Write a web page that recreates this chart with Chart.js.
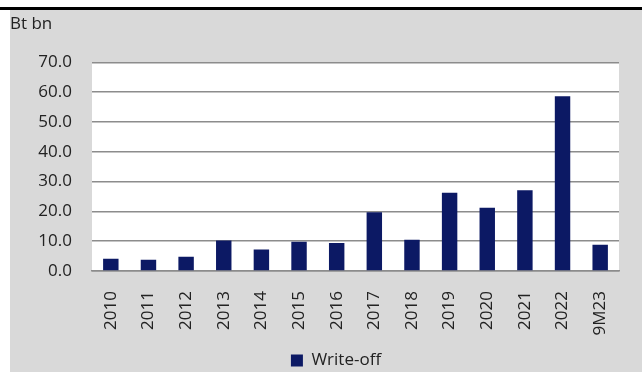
<!DOCTYPE html>
<html>
<head>
<meta charset="utf-8">
<script src="https://cdn.jsdelivr.net/npm/chart.js@4"></script>
<style>
  html, body { margin: 0; padding: 0; background: #fff; overflow: hidden; }
  #page { position: relative; width: 642px; height: 372px; overflow: hidden; }
  #rule { position: absolute; left: 0; top: 7px; width: 642px; height: 3px; background: #000; }
  #panel { position: absolute; left: 10px; top: 10px; width: 632px; height: 362px; background: #d9d9d9; }
  #chart { position: absolute; left: 10px; top: 10px; }
</style>
</head>
<body>
<div id="page">
  <div id="rule"></div>
  <div id="panel"></div>
  <canvas id="chart" width="652" height="371"></canvas>
</div>
<script>
// データ
const categories = ["2010", "2011", "2012", "2013", "2014", "2015", "2016", "2017", "2018", "2019", "2020", "2021", "2022", "9M23"];
const writeOff = [4.1, 3.8, 4.8, 10.2, 7.2, 9.8, 9.4, 19.7, 10.5, 26.3, 21.2, 27.1, 58.6, 8.8];
const yTicks = [0, 10, 20, 30, 40, 50, 60, 70];

const fontFamily = "'Open Sans', 'Noto Sans', sans-serif";
const textColor = "#222";
const gridColor = "#8c8c8c";

// プロットエリアを白で塗る
const plotBackground = {
    id: "plotBackground",
    beforeDraw(chart) {
        const a = chart.chartArea;
        const ctx = chart.ctx;
        ctx.save();
        ctx.fillStyle = "#fff";
        ctx.fillRect(a.left, a.top, a.right - a.left, a.bottom - a.top);
        ctx.restore();
    }
};

let config = {
    type: "bar",
    data: {
        labels: categories,
        datasets: [{
            label: "Write-off",
            data: writeOff,
            backgroundColor: "#0c1964",
            categoryPercentage: 1,
            barPercentage: 0.41
        }]
    },
    options: {
        responsive: false,
        animation: false,
        devicePixelRatio: 1,
        layout: { padding: { left: 0, right: 0, top: 0, bottom: 2 } },
        plugins: {
            title: {
                display: true,
                text: "Bt bn",
                align: "start",
                color: textColor,
                font: { family: fontFamily, size: 17, weight: "normal" },
                padding: { top: 4, bottom: 28 }
            },
            legend: {
                position: "bottom",
                labels: {
                    color: textColor,
                    font: { family: fontFamily, size: 17 },
                    boxWidth: 12,
                    boxHeight: 12,
                    padding: 4
                }
            },
            tooltip: { enabled: false }
        },
        scales: {
            x: {
                grid: { display: false },
                border: { display: true, color: gridColor, width: 1.5 },
                ticks: {
                    color: textColor,
                    font: { family: fontFamily, size: 17 },
                    minRotation: 90,
                    maxRotation: 90,
                    padding: 12
                },
                // 軸の高さを固定
                afterFit(scale) { scale.height = 77; }
            },
            y: {
                min: 0,
                max: 70,
                afterFit(scale) { scale.width = 82; },
                afterBuildTicks(scale) { scale.ticks = yTicks.map(v => ({ value: v })); },
                grid: { color: gridColor, lineWidth: 1.5, drawTicks: false },
                border: { display: false },
                ticks: {
                    color: textColor,
                    font: { family: fontFamily, size: 17 },
                    padding: 20,
                    callback: v => v.toFixed(1)
                }
            },
            // 右側の余白用（何も描かない）
            yRight: {
                position: "right",
                afterFit(scale) { scale.width = 43; },
                grid: { display: false },
                border: { display: false },
                ticks: { display: false }
            }
        }
    },
    plugins: [plotBackground]
};

// チャートの生成
window.addEventListener("load", function() {
    let ctx = document.getElementById("chart").getContext("2d");
    myChart = new Chart(ctx, config);
}, false);
</script>
</body>
</html>
